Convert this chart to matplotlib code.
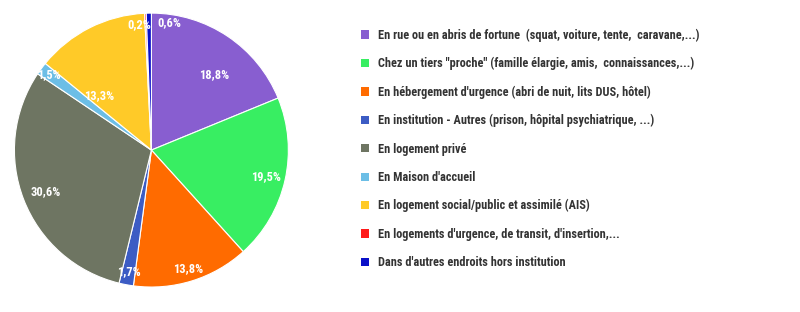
import numpy as np
import matplotlib
matplotlib.use("Agg")
import matplotlib.pyplot as plt
from matplotlib import font_manager as fm
from matplotlib.patches import Patch

# pick a narrow font if one is installed
fonts = fm.fontManager.ttflist
names = {f.name for f in fonts}
family = "Roboto"
for cand in ["Roboto Condensed", "Liberation Sans Narrow", "Open Sans Condensed"]:
    if cand in names:
        family = cand
        break
plt.rcParams["font.family"] = [family, "DejaVu Sans"]

categories = [
    "En rue ou en abris de fortune  (squat, voiture, tente,  caravane,...)",
    'Chez un tiers "proche" (famille élargie, amis,  connaissances,...)',
    "En hébergement d'urgence (abri de nuit, lits DUS, hôtel)",
    "En institution - Autres (prison, hôpital psychiatrique, ...)",
    "En logement privé",
    "En Maison d'accueil",
    "En logement social/public et assimilé (AIS)",
    "En logements d'urgence, de transit, d'insertion,...",
    "Dans d'autres endroits hors institution",
]
values = [18.8, 19.5, 13.8, 1.7, 30.6, 1.5, 13.3, 0.2, 0.6]
colors = ["#885ED0", "#38EE62", "#FF6B00", "#3C5CC4", "#6E7562",
          "#6CBEE6", "#FFCA28", "#FF1A1A", "#0A10C8"]

# label placement: radius fraction and angle shift (deg) from wedge middle
label_r = [0.72, 0.86, 0.91, 0.90, 0.83, 0.93, 0.55, 0.92, 0.94]
label_shift = [-6, 0, 0, 0, 0, 0, 17, 3, -9]

fig = plt.figure(figsize=(8, 3.12), dpi=100)
ax = fig.add_axes([0.018, 0.080, 0.3425, 0.878])

wedges, _ = ax.pie(values, colors=colors, startangle=90, counterclock=False,
                   wedgeprops=dict(edgecolor="white", linewidth=0.8))
ax.set_xlim(-1, 1)
ax.set_ylim(-1, 1)
ax.set_aspect("equal")

for w, v, r, s in zip(wedges, values, label_r, label_shift):
    ang = np.deg2rad((w.theta1 + w.theta2) / 2 + s)
    ax.text(r * np.cos(ang), r * np.sin(ang), f"{v:.1f}%".replace(".", ","),
            ha="center", va="center", color="white", fontsize=9,
            fontweight="bold")

handles = [Patch(facecolor=c, edgecolor="none") for c in colors]
fig.legend(handles, categories, loc="upper left",
           bbox_to_anchor=(0.438, 0.944), frameon=False,
           labelspacing=1.25, handlelength=0.65, handleheight=0.65,
           handletextpad=0.7, labelcolor="#333333",
           prop=dict(family=[family, "DejaVu Sans"],
                     weight="bold", size=8.8))

plt.savefig("out.png", dpi=100)
plt.close()
